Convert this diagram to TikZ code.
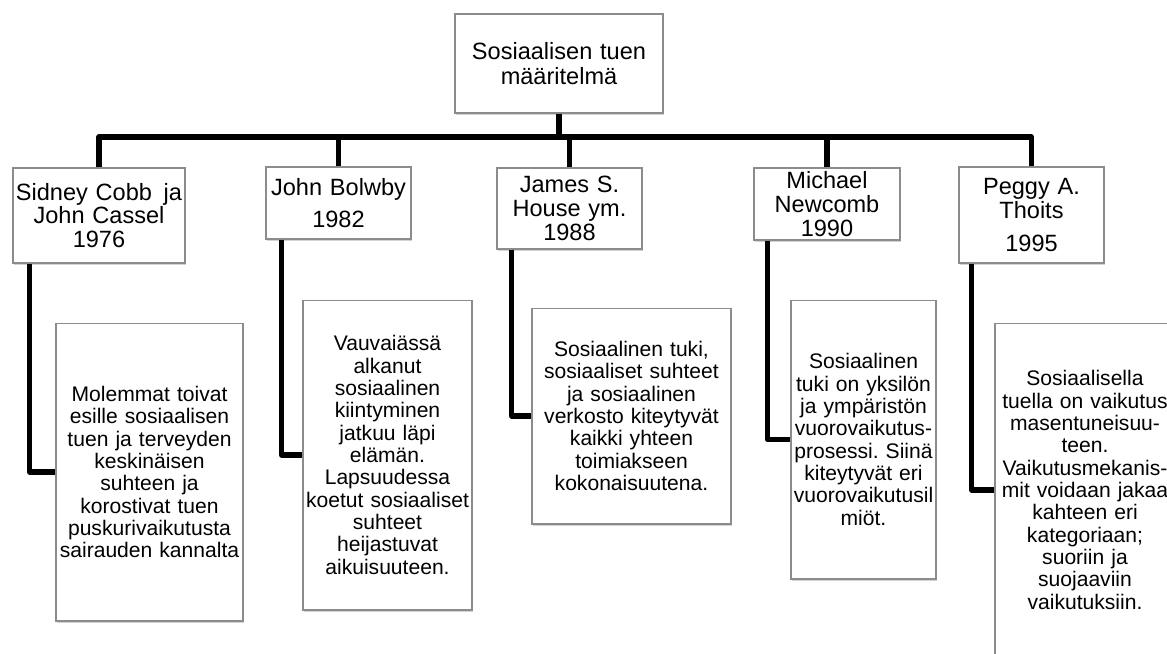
\documentclass[tikz,border=0pt]{standalone}
\usepackage{fontspec}
\setmainfont{Liberation Sans}
\usepackage{tikz}
\usetikzlibrary{shadows,calc}
\frenchspacing

\begin{document}
\begin{tikzpicture}[x=0.02cm, y=-0.02cm,
	box/.style={draw=black!45, fill=white, line width=0.6pt, inner sep=0pt, align=center,
		drop shadow={shadow xshift=0.7pt, shadow yshift=-1.2pt, opacity=0.35}},
	person/.style={box, font=\fontsize{13.4}{13.6}\selectfont},
	desc/.style={box, font=\fontsize{12}{12.7}\selectfont},
	link/.style={line width=3pt, line join=round}]
	\useasboundingbox (0,0) rectangle (1167,653);
	\clip (0,0) rectangle (1167,653);
	\node[font=\fontsize{13.4}{14.2}\selectfont] (def) at (559,63.5) [box, text width=4.16cm, minimum height=1.98cm] {Sosiaalisen tuen\\ määritelmä};
		\node (cobb) at (99,215.5) [person, text width=3.44cm, minimum height=1.9cm] {Sidney Cobb\ \,ja\\ John Cassel\\ 1976};
		\node (bowlby) at (338.5,203) [person, text width=2.9cm, minimum height=1.44cm] {John Bolwby\\[4.5pt] 1982};
		\node (house) at (569.5,208.5) [person, text width=2.9cm, minimum height=1.62cm] {James S.\\ House ym.\\ 1988};
		\node (newcomb) at (827,204) [person, text width=2.92cm, minimum height=1.44cm] {Michael\\ Newcomb\\ 1990};
		\node (thoits) at (1031.5,215) [person, text width=2.9cm, minimum height=1.92cm] {Peggy A.\\ Thoits\\[5pt] 1995};
			\node (cobbtext) at (149.5,472) [desc, text width=3.74cm, minimum height=5.96cm] {Molemmat toivat\\ esille sosiaalisen\\ tuen ja terveyden\\ keskinäisen\\ suhteen ja\\ korostivat tuen\\ puskurivaikutusta\\ sairauden kannalta};
			\node (bowlbytext) at (387.5,455) [desc, text width=3.38cm, minimum height=6.2cm] {Vauvaiässä\\ alkanut\\ sosiaalinen\\ kiintyminen\\ jatkuu läpi\\ elämän.\\ Lapsuudessa\\ koetut sosiaaliset\\ suhteet\\ heijastuvat\\ aikuisuuteen.};
			\node (housetext) at (631.5,416) [desc, text width=3.98cm, minimum height=4.32cm] {Sosiaalinen tuki,\\ sosiaaliset suhteet\\ ja sosiaalinen\\ verkosto kiteytyvät\\ kaikki yhteen\\ toimiakseen\\ kokonaisuutena.};
			\node (newcombtext) at (863.5,439.5) [desc, text width=2.9cm, minimum height=5.58cm] {Sosiaalinen\\ tuki on yksilön\\ ja ympäristön\\ vuorovaikutus-\\ prosessi. Siinä\\ kiteytyvät eri\\ vuorovaikutusil\\ miöt.};
			\node (thoitstext) at (1085,490) [desc, text width=3.6cm, minimum height=6.68cm] {Sosiaalisella\\ tuella on vaikutus\\ masentuneisuu-\\ teen.\\ Vaikutusmekanis-\\ mit voidaan jakaa\\ kahteen eri\\ kategoriaan;\\ suoriin ja\\ suojaaviin\\ vaikutuksiin.};
	\coordinate (bus) at (0,137);
	\draw[link] (def.south) -- (def.south |- bus);
	\draw[link] (cobb.north) -- (cobb.north |- bus) -- (thoits.north |- bus) -- (thoits.north);
	\draw[link] (bowlby.north) -- (bowlby.north |- bus);
	\draw[link] (house.north) -- (house.north |- bus);
	\draw[link] (newcomb.north) -- (newcomb.north |- bus);
	\draw[link] ($(cobb.south west)+(17,0)$) |- (cobbtext.west);
	\draw[link] ($(bowlby.south west)+(16,0)$) |- (bowlbytext.west);
	\draw[link] ($(house.south west)+(15,0)$) |- (housetext.west);
	\draw[link] ($(newcomb.south west)+(14,0)$) |- (newcombtext.west);
	\draw[link] ($(thoits.south west)+(13,0)$) |- (thoitstext.west);
\end{tikzpicture}
\end{document}
